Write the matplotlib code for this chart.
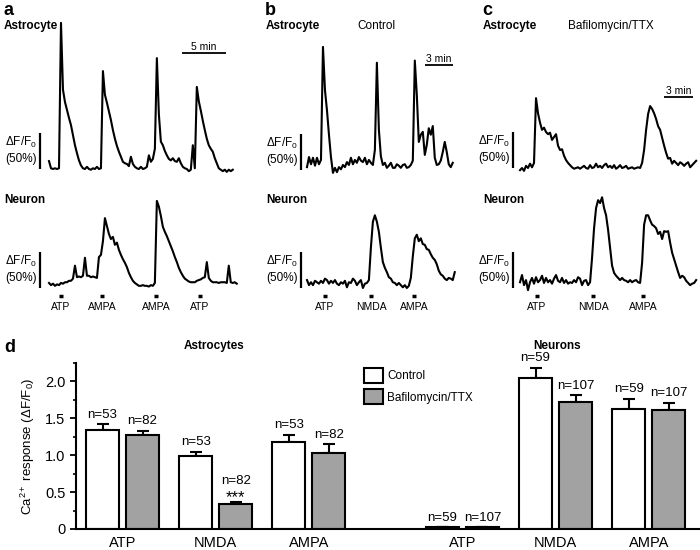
import numpy as np
import matplotlib
matplotlib.use('Agg')
from matplotlib import pyplot as plt

plt.rcParams['font.family'] = ['Liberation Sans', 'DejaVu Sans']
plt.rcParams['mathtext.fontset'] = 'custom'
plt.rcParams['mathtext.rm'] = 'Liberation Sans'
plt.rcParams['mathtext.it'] = 'Liberation Sans:italic'
plt.rcParams['mathtext.bf'] = 'Liberation Sans:bold'

W, H = 700, 550

# ---- Ca2+ traces (dF/F0 in %, one value per sample) ----
dt_a = 0.227   # min per sample, panel a
dt_b = 0.214   # panel b
dt_c = 0.207   # panel c

astro_a = [11, 1, 0, 1, 0, 1, 203, 110, 93, 82, 71, 61, 47, 33, 22, 12, 5,
           1, 0, 3, 0, -1, 1, 0, 3, 0, 1,
           136, 103, 92, 80, 68, 54, 42, 32, 24, 17, 10, 8, 7, 4,
           17, 7, 3, 1, 0, 3, 0, 1, 3, 19, 10, 14, 28,
           154, 76, 38, 33, 25, 19, 14, 12, 15, 11, 10, 15, 8, 3, 1, 0, -3, -1,
           33, 1, 114, 94, 81, 67, 54, 42, 33, 28, 24, 15, 8, 1, -1, -3, -1, -4, -1, -3, -1]
neuron_a = [7, 4, 6, 3, 5, 4, 7, 6, 8, 8, 10, 10, 13,
            31, 15, 16, 15, 17, 42, 17, 17, 15, 16, 15, 14,
            43, 46, 65, 97, 86, 75, 68, 71, 60, 63, 53, 46, 40, 35, 29, 21, 15, 10, 7, 5,
            3, 3, 4, 3, 3, 2, 4, 3, 7,
            121, 113, 100, 85, 78, 72, 65, 58, 51, 43, 36, 28, 22, 17, 13, 11, 9, 8, 8, 8, 10, 11, 12, 14, 15,
            36, 14, 10, 8, 8, 8, 7, 8, 8, 8, 7, 31, 8, 7, 8, 6]
astro_b = [4, 18, 8, 17, 6, 17, 8, 14, 171, 111, 83, 49, 18,
           -4, 3, -3, 4, 1, 7, 4, 11, 7, 17, 8, 14, 10, 18, 13, 11, 17, 8, 14, 10, 7,
           28, 149, 56, 19, 7, 10, 3, 6, 10, 3, 3, 8, 6, 3, 7, 8, 3, 4, 7, 13,
           152, 104, 39, 49, 53, 21, 35, 58, 49, 61, 17, 7, 8, 13, 25, 39, 25, 8, 4, 10]
neuron_b = [11, 4, 8, 4, 10, 8, 6, 10, 7, 13, 11, 6, 10, 7, 11, 6, 4, 8, 6, 10,
            1, 8, 7, 13, 10, 4, 8, 11, 0, 6, 7, 11,
            56, 92, 101, 92, 78, 56, 36, 28, 22, 15, 13, 8, 7, 4, 7, 4, 1, 4, 0, 3,
            14, 44, 69, 74, 65, 69, 61, 60, 54, 53, 47, 42, 39, 33, 24, 19, 17, 13, 11, 14, 13, 11, 22]
astro_c = [-3, 0, -4, 3, 0, 6, 1, 7,
           97, 76, 63, 53, 56, 50, 47, 49, 39, 43, 47, 31, 25, 26, 17, 11, 7, 4, 1, -1,
           0, 1, -1, 1, 3, 0, -1, 4, 0, 1, 6, 1, 3, 0, 4, 6, 1, 3, 0, 4, -1, 1, 4, 0, 1, 3, -1, 0, 1, -1, 0, 1, 0,
           7, 25, 53, 75, 86, 82, 76, 68, 58, 53, 42, 31, 21, 13, 14, 6, 10, 7, 4, 8, 6, 3, 6, 8, 1, 4, 7, 10]
neuron_c = [8, 18, 4, 11, -3, 8, 14, 6, 15, 8, 11, 17, 7, 14, 8, 11, 6, 13, 18, 10,
            8, 14, 7, 11, 6, 8, 7, 11, 8, 15, 13, 4, 10, 11, 4, 8,
            42, 83, 111, 122, 118, 126, 111, 101, 81, 56, 31, 21, 17, 14, 11, 14, 11, 10, 8, 11, 8, 10, 11, 8, 7,
            35, 88, 101, 101, 94, 88, 86, 83, 75, 78, 68, 79, 78, 79, 63, 49, 40, 31, 22, 14, 17, 15, 10, 7, 4, 6, 7, 11]

# drug applications (min from trace start)
stim_a = ['ATP', 'AMPA', 'AMPA', 'ATP']
stim_a_t = [1.36, 6.02, 12.16, 17.16]
stim_b = ['ATP', 'NMDA', 'AMPA']
stim_b_t = [1.93, 6.86, 11.47]
stim_c = ['ATP', 'NMDA', 'AMPA']
stim_c_t = [1.76, 7.55, 12.72]

# ---- panel d: mean response +/- SEM ----
categories = ['ATP', 'NMDA', 'AMPA']
astro_ctrl = [1.345, 0.985, 1.18]
astro_ctrl_err = [0.075, 0.065, 0.10]
astro_baf = [1.27, 0.335, 1.03]
astro_baf_err = [0.06, 0.03, 0.12]
neuron_ctrl = [0.025, 2.05, 1.625]
neuron_ctrl_err = [0.0, 0.135, 0.14]
neuron_baf = [0.025, 1.725, 1.61]
neuron_baf_err = [0.0, 0.09, 0.10]
astro_n = [53, 82]
neuron_n = [59, 107]

PX_PER_PCT = 36 / 50
GRAY = '#a2a2a2'

fig = plt.figure(figsize=(7, 5.5), dpi=100)


def ftext(x, y, s, **kw):
    # place text using pixel position (top-left origin)
    kw.setdefault('va', 'baseline')
    fig.text(x / W, 1 - y / H, s, **kw)


def trace_axes(x0, base, ppm):
    # full-figure axes whose data origin (t=0, 0 %) sits at pixel (x0, base)
    ax = fig.add_axes([0, 0, 1, 1])
    ax.set_xlim(-x0 / ppm, (W - x0) / ppm)
    ax.set_ylim(-(H - base) / PX_PER_PCT, base / PX_PER_PCT)
    ax.axis('off')
    ax.patch.set_visible(False)
    return ax


def draw_trace(ax, values, dt, bar_t, bar_x, base):
    t = np.arange(len(values)) * dt
    ax.plot(t, values, color='black', lw=1.5)
    ax.plot([bar_t, bar_t], [0, 50], color='black', lw=1.6,
            solid_capstyle='butt', clip_on=False)
    ftext(bar_x - 3, base - 23, 'ΔF/F$_0$', ha='right', fontsize=8.5)
    ftext(bar_x - 3, base - 7, '(50%)', ha='right', fontsize=8.5)


def draw_stims(ax, names, times):
    for name, t in zip(names, times):
        ax.plot([t - 0.25, t + 0.25], [-11, -11], color='black', lw=2.5,
                solid_capstyle='butt')
        ax.text(t, -26, name, ha='center', va='center', fontsize=7.5)


def draw_timebar(ax, t0, length, val, label):
    ax.plot([t0, t0 + length], [val, val], color='black', lw=1.3,
            solid_capstyle='butt')
    ax.text(t0 + length / 2, val + 1, label, ha='center', va='bottom', fontsize=7.5)


# panel a
ax = trace_axes(49, 169, 8.8)
draw_trace(ax, astro_a, dt_a, -1.02, 40, 169)
draw_timebar(ax, 15.1, 5, 161, '5 min')
ax = trace_axes(49, 288, 8.8)
draw_trace(ax, neuron_a, dt_a, -1.02, 40, 288)
draw_stims(ax, stim_a, stim_a_t)

# panel b
ax = trace_axes(307, 170, 9.33)
draw_trace(ax, astro_b, dt_b, -0.64, 301, 170)
draw_timebar(ax, 12.65, 3, 146, '3 min')
ax = trace_axes(307, 288, 9.33)
draw_trace(ax, neuron_b, dt_b, -0.64, 301, 288)
draw_stims(ax, stim_b, stim_b_t)

# panel c
ax = trace_axes(520, 168, 9.67)
draw_trace(ax, astro_c, dt_c, -0.72, 513, 168)
draw_timebar(ax, 14.9, 3, 99, '3 min')
ax = trace_axes(520, 288, 9.67)
draw_trace(ax, neuron_c, dt_c, -0.72, 513, 288)
draw_stims(ax, stim_c, stim_c_t)

# panel labels and cell names
for letter, x in zip(['a', 'b', 'c'], [3, 265, 482]):
    ftext(x, 15, letter, fontsize=13, fontweight='bold')
    ftext(x + 1, 29, 'Astrocyte', fontsize=8.5, fontweight='bold')
    ftext(x + 1, 203, 'Neuron', fontsize=8.5, fontweight='bold')
ftext(357, 29, 'Control', fontsize=8.5)
ftext(568, 29, 'Bafilomycin/TTX', fontsize=8.5)
ftext(4, 352, 'd', fontsize=13, fontweight='bold')

# ---- bar chart ----
bx = fig.add_axes([76 / W, 21 / H, 623 / W, 166 / H])
astro_pos = np.array([0.0, 1.0, 2.0])
neuron_pos = np.array([3.65, 4.65, 5.65])
off, w = 0.215, 0.355
bar_kw = dict(edgecolor='black', linewidth=1.5, zorder=2)
err_kw = dict(fmt='none', ecolor='black', elinewidth=1.5, capsize=4.3,
              capthick=1.5, zorder=1)

groups = [
    (astro_pos - off, astro_ctrl, astro_ctrl_err, 'white', astro_n[0], 'Control'),
    (astro_pos + off, astro_baf, astro_baf_err, GRAY, astro_n[1], 'Bafilomycin/TTX'),
    (neuron_pos - off, neuron_ctrl, neuron_ctrl_err, 'white', neuron_n[0], None),
    (neuron_pos + off, neuron_baf, neuron_baf_err, GRAY, neuron_n[1], None),
]
sig_x = astro_pos[1] + off
for pos, vals, errs, col, n, lab in groups:
    bx.bar(pos, vals, w, color=col, label=lab, **bar_kw)
    bx.errorbar(pos, vals, yerr=[np.zeros(3), errs], **err_kw)
    for p, v, e in zip(pos, vals, errs):
        # the n label sits above the *** mark on the NMDA Bafilomycin bar
        dy = 10.5 if p == sig_x else 2.5
        bx.annotate(f'n={n}', (p, v + e), xytext=(0, dy), textcoords='offset points',
                    ha='center', va='bottom', fontsize=9.5)

bx.annotate('***', (sig_x, astro_baf[1] + astro_baf_err[1]),
            xytext=(0, -2.5), textcoords='offset points', ha='center', va='bottom',
            fontsize=12)

bx.set_xlim(-0.5, 6.19)
bx.set_ylim(0, 2.25)
bx.set_yticks([0, 0.5, 1.0, 1.5, 2.0])
bx.set_yticklabels(['0', '0.5', '1.0', '1.5', '2.0'], fontsize=10.5)
bx.set_yticks(np.arange(0, 2.26, 0.25), minor=True)
bx.tick_params(axis='y', which='major', length=4, width=1.3, direction='out')
bx.tick_params(axis='y', which='minor', length=2.5, width=1.2, direction='out')
bx.set_xticks(np.concatenate([astro_pos, neuron_pos]))
bx.set_xticklabels(categories * 2, fontsize=10.5)
bx.tick_params(axis='x', length=0, pad=5)
for side in ['top', 'right']:
    bx.spines[side].set_visible(False)
for side in ['left', 'bottom']:
    bx.spines[side].set_linewidth(1.5)
bx.patch.set_visible(False)
bx.set_ylabel('Ca$^{2+}$ response (ΔF/F$_0$)', fontsize=9.5)
bx.yaxis.set_label_coords(-0.062, 0.5)

ftext(214, 349, 'Astrocytes', ha='center', fontsize=8.5, fontweight='bold')
ftext(557, 349, 'Neurons', ha='center', fontsize=8.5, fontweight='bold')

bx.legend(loc='upper left', bbox_to_anchor=(364 / W, 1 - 368 / H),
          bbox_transform=fig.transFigure, frameon=False, fontsize=8.5,
          handlelength=1.6, handleheight=1.6, handletextpad=0.35,
          labelspacing=0.5, borderpad=0, borderaxespad=0)

fig.savefig('out.png', dpi=100)
